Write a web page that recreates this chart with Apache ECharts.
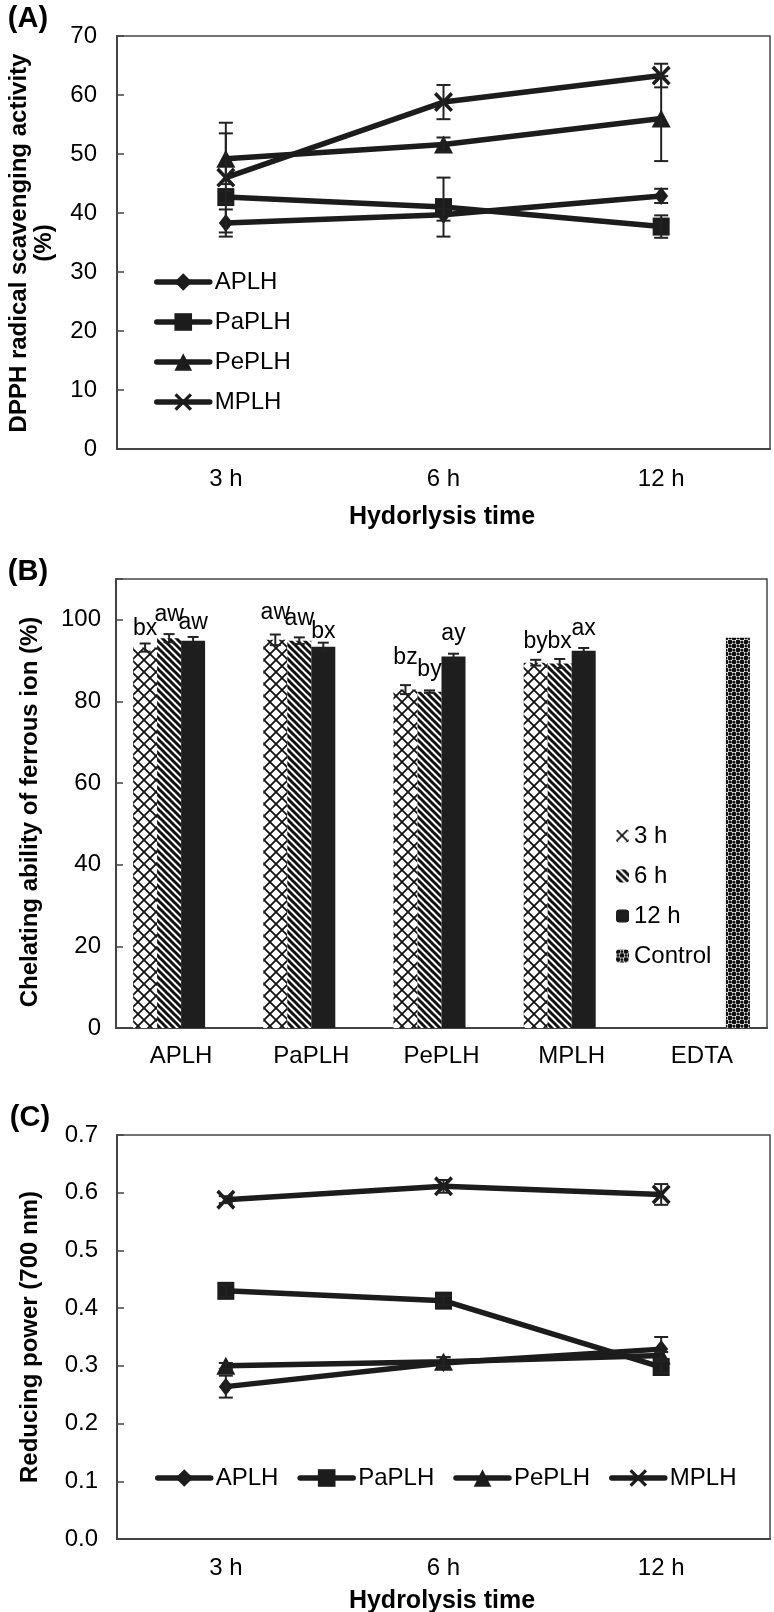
<!DOCTYPE html>
<html><head><meta charset="utf-8">
<script src="https://cdn.jsdelivr.net/npm/echarts@6/dist/echarts.min.js"></script>
<style>html,body{margin:0;padding:0;background:#fff}#c{width:774px;height:1612px}</style>
</head><body><div id="c"></div>
<script>
// ---------------- DATA ----------------
const timeLabels = ['3 h', '6 h', '12 h'];
const lineNames = ['APLH', 'PaPLH', 'PePLH', 'MPLH'];

// (A) DPPH radical scavenging activity (%)
const dpphAPLH = [38.3, 39.7, 42.9];
const dpphAPLHErr = [2.3, 1.0, 1.2];
const dpphPaPLH = [42.7, 41.0, 37.7];
const dpphPaPLHErr = [1.0, 5.0, 1.9];
const dpphPePLH = [49.2, 51.6, 56.0];
const dpphPePLHErr = [4.3, 1.2, 7.2];
const dpphMPLH = [46.0, 58.8, 63.3];
const dpphMPLHErr = [9.3, 2.9, 2.0];

// (B) Chelating ability of ferrous ion (%)
const chelCategories = ['APLH', 'PaPLH', 'PePLH', 'MPLH', 'EDTA'];
const barNames = ['3 h', '6 h', '12 h', 'Control'];
const chel3h = [93.2, 95.1, 82.9, 89.5, null];
const chel3hErr = [1.0, 1.3, 1.1, 0.7, null];
const chel3hLetters = ['bx', 'aw', 'bz', 'by', ''];
const chel6h = [95.5, 94.9, 82.4, 89.3, null];
const chel6hErr = [1.0, 0.8, 0.3, 1.1, null];
const chel6hLetters = ['aw', 'aw', 'by', 'bx', ''];
const chel12h = [94.9, 93.4, 91.0, 92.4, null];
const chel12hErr = [0.9, 1.0, 0.7, 0.7, null];
const chel12hLetters = ['aw', 'bx', 'ay', 'ax', ''];
const chelControl = [null, null, null, null, 95.6];

// (C) Reducing power (700 nm)
const redAPLH = [0.264, 0.305, 0.329];
const redAPLHErr = [0.019, 0.010, 0.021];
const redPaPLH = [0.430, 0.413, 0.298];
const redPaPLHErr = [0.010, 0.008, 0.010];
const redPePLH = [0.300, 0.307, 0.318];
const redPePLHErr = [0.005, 0.008, 0.006];
const redMPLH = [0.588, 0.611, 0.597];
const redMPLHErr = [0.006, 0.011, 0.018];

// ---------------- STYLE ----------------
const FONT = '"Liberation Sans", Arial, sans-serif';
const INK = '#1c1c1c';
const AX = '#444';
const BAR_W = 24;
const LINE_W = 5.5;
const labelDist3h = [7, 16, 20, 10, 0];
const labelDist6h = [12, 10, 11, 10, 0];
const labelDist12h = [6, 4, 11, 11, 0];

const X_PATH = 'path://M0,2.6L2.6,0L10,7.4L17.4,0L20,2.6L12.6,10L20,17.4L17.4,20L10,12.6L2.6,20L0,17.4L7.4,10Z';
const markers = [
  {symbol: 'diamond', size: [14, 18]},
  {symbol: 'rect', size: [17, 18]},
  {symbol: 'triangle', size: [19, 18]},
  {symbol: X_PATH, size: [19, 20]}
];

function makeCanvas(w, h, draw) {
  const c = document.createElement('canvas');
  c.width = w; c.height = h;
  draw(c.getContext('2d'), w, h);
  return c;
}
const patCross = makeCanvas(12, 12, (g, w, h) => {
  g.fillStyle = '#fff'; g.fillRect(0, 0, w, h);
  g.strokeStyle = '#111'; g.lineWidth = 1.8;
  g.beginPath();
  g.moveTo(-2, -2); g.lineTo(w + 2, h + 2);
  g.moveTo(w + 2, -2); g.lineTo(-2, h + 2);
  g.stroke();
});
const patStripe = makeCanvas(7, 7, (g, w, h) => {
  g.fillStyle = '#fff'; g.fillRect(0, 0, w, h);
  g.strokeStyle = '#111'; g.lineWidth = 3;
  g.beginPath();
  for (let k = -1; k <= 1; k++) {
    g.moveTo(k * w - 2, -2); g.lineTo(k * w + w + 2, h + 2);
  }
  g.stroke();
});
const patDots = makeCanvas(8, 8, (g, w, h) => {
  g.fillStyle = '#fff'; g.fillRect(0, 0, w, h);
  g.fillStyle = '#111';
  [[2, 2], [6, 6], [6, 2], [2, 6]].forEach(([x, y], j) => {
    g.beginPath(); g.arc(x, y, j < 2 ? 2.4 : 1.6, 0, Math.PI * 2); g.fill();
  });
});
const barColors = [
  {image: patCross, repeat: 'repeat'},
  {image: patStripe, repeat: 'repeat'},
  '#1e1e1e',
  {image: patDots, repeat: 'repeat'}
];

// ---------------- HELPERS ----------------
function lineSeries(name, idx, vals, k) {
  return {
    name: name, type: 'line', xAxisIndex: idx, yAxisIndex: idx,
    data: vals, symbol: markers[k].symbol, symbolSize: markers[k].size,
    showAllSymbol: true,
    lineStyle: {color: INK, width: LINE_W},
    itemStyle: {color: INK},
    z: 3, animation: false
  };
}
function errSeries(idx, vals, errs, offsetPx, cap) {
  const data = [];
  vals.forEach((v, i) => { if (v != null && errs[i] != null) data.push([i, v, errs[i]]); });
  return {
    type: 'custom', xAxisIndex: idx, yAxisIndex: idx, silent: true, z: 4,
    data: data, animation: false,
    renderItem: function (params, api) {
      const i = api.value(0), v = api.value(1), e = api.value(2);
      const t = api.coord([i, v + e]);
      const b = api.coord([i, v - e]);
      const x = t[0] + offsetPx;
      const st = {stroke: '#222', lineWidth: 2};
      return {type: 'group', children: [
        {type: 'line', shape: {x1: x, y1: t[1], x2: x, y2: b[1]}, style: st},
        {type: 'line', shape: {x1: x - cap, y1: t[1], x2: x + cap, y2: t[1]}, style: st},
        {type: 'line', shape: {x1: x - cap, y1: b[1], x2: x + cap, y2: b[1]}, style: st}
      ]};
    }
  };
}
function barSeries(name, vals, k, letters, dists) {
  return {
    name: name, type: 'bar', xAxisIndex: 1, yAxisIndex: 1,
    barWidth: BAR_W, barGap: '0%',
    data: vals.map((v, i) => v == null ? null : (letters ? {value: v, label: {distance: dists[i]}} : v)),
    itemStyle: {color: barColors[k]},
    label: letters ? {
      show: true, position: 'top', fontSize: 23, color: '#000', fontFamily: FONT,
      formatter: p => letters[p.dataIndex]
    } : {show: false},
    z: 2, animation: false
  };
}
function catAxis(idx, cats, margin, fs) {
  return {
    gridIndex: idx, type: 'category', data: cats,
    axisLine: {lineStyle: {color: AX, width: 2}},
    axisTick: {inside: true, length: 7, lineStyle: {color: AX, width: 1.5}},
    axisLabel: {color: '#000', fontSize: fs, fontFamily: FONT, margin: margin},
    splitLine: {show: false}
  };
}
function valAxis(idx, max, interval, margin, fmt) {
  return {
    gridIndex: idx, type: 'value', min: 0, max: max, interval: interval,
    axisLine: {show: true, lineStyle: {color: AX, width: 2}},
    axisTick: {show: true, inside: true, length: 7, lineStyle: {color: AX, width: 1.5}},
    axisLabel: {color: '#000', fontSize: 24, fontFamily: FONT, margin: margin, formatter: fmt},
    splitLine: {show: false}
  };
}
function txt(text, x, y, size, bold, rot) {
  return {type: 'text', x: x, y: y, rotation: rot || 0, silent: true,
    style: {text: text, fontSize: size, fontWeight: bold ? 'bold' : 'normal', fontFamily: FONT,
      fill: '#000', align: 'center', verticalAlign: 'middle'}};
}

// ---------------- OPTION ----------------
const dpphVals = [dpphAPLH, dpphPaPLH, dpphPePLH, dpphMPLH];
const dpphErrs = [dpphAPLHErr, dpphPaPLHErr, dpphPePLHErr, dpphMPLHErr];
const redVals = [redAPLH, redPaPLH, redPePLH, redMPLH];
const redErrs = [redAPLHErr, redPaPLHErr, redPePLHErr, redMPLHErr];

const series = [];
lineNames.forEach((n, k) => series.push(lineSeries(n, 0, dpphVals[k], k)));
lineNames.forEach((n, k) => series.push(errSeries(0, dpphVals[k], dpphErrs[k], 0, 7)));
series.push(barSeries(barNames[0], chel3h, 0, chel3hLetters, labelDist3h));
series.push(barSeries(barNames[1], chel6h, 1, chel6hLetters, labelDist6h));
series.push(barSeries(barNames[2], chel12h, 2, chel12hLetters, labelDist12h));
series.push(barSeries(barNames[3], chelControl, 3, null, null));
series.push(errSeries(1, chel3h, chel3hErr, -1.5 * BAR_W, 5.5));
series.push(errSeries(1, chel6h, chel6hErr, -0.5 * BAR_W, 5.5));
series.push(errSeries(1, chel12h, chel12hErr, 0.5 * BAR_W, 5.5));
lineNames.forEach((n, k) => series.push(lineSeries(n, 2, redVals[k], k)));
lineNames.forEach((n, k) => series.push(errSeries(2, redVals[k], redErrs[k], 0, 7)));

const legendText = {fontSize: 24, color: '#000', fontFamily: FONT};
const legendLine = {width: LINE_W, color: INK, cap: 'round'};
const option = {
  backgroundColor: '#fff',
  animation: false,
  grid: [
    {left: 117, top: 36, width: 653, height: 413, show: true, borderColor: AX, borderWidth: 1.5, backgroundColor: 'transparent'},
    {left: 116, top: 579, width: 651, height: 449, show: true, borderColor: AX, borderWidth: 1.5, backgroundColor: 'transparent'},
    {left: 117, top: 1135, width: 653, height: 404, show: true, borderColor: AX, borderWidth: 1.5, backgroundColor: 'transparent'}
  ],
  xAxis: [catAxis(0, timeLabels, 18, 24), catAxis(1, chelCategories, 16, 24), catAxis(2, timeLabels, 17, 24)],
  yAxis: [
    valAxis(0, 70, 10, 20),
    valAxis(1, 110, 20, 15, v => (v > 100 ? '' : String(v))),
    valAxis(2, 0.7, 0.1, 19, v => v.toFixed(1))
  ],
  legend: [
    {data: lineNames, orient: 'vertical', left: 149, top: 265, itemWidth: 53, itemHeight: 22, itemGap: 16,
      textStyle: legendText, lineStyle: legendLine, selectedMode: false},
    {data: barNames, orient: 'vertical', left: 611, top: 819, itemWidth: 13, itemHeight: 13, itemGap: 16,
      textStyle: legendText, selectedMode: false},
    {data: lineNames, orient: 'horizontal', left: 150, top: 1461, itemWidth: 53, itemHeight: 22, itemGap: 19,
      textStyle: legendText, lineStyle: legendLine, selectedMode: false}
  ],
  graphic: [
    txt('(A)', 28, 19, 29, true),
    txt('DPPH radical scavenging activity', 19, 243, 24, true, Math.PI / 2),
    txt('(%)', 44, 243, 24, true, Math.PI / 2),
    txt('Hydorlysis time', 442, 517, 25, true),
    txt('(B)', 28, 572, 29, true),
    txt('Chelating ability of ferrous ion (%)', 30, 812, 24, true, Math.PI / 2),
    txt('(C)', 30, 1118, 29, true),
    txt('Reducing power (700 nm)', 30, 1337, 24, true, Math.PI / 2),
    txt('Hydrolysis time', 442, 1601, 25, true)
  ],
  series: series
};
const chart = echarts.init(document.getElementById('c'), null, {renderer: 'canvas'});
chart.setOption(option);
</script></body></html>
